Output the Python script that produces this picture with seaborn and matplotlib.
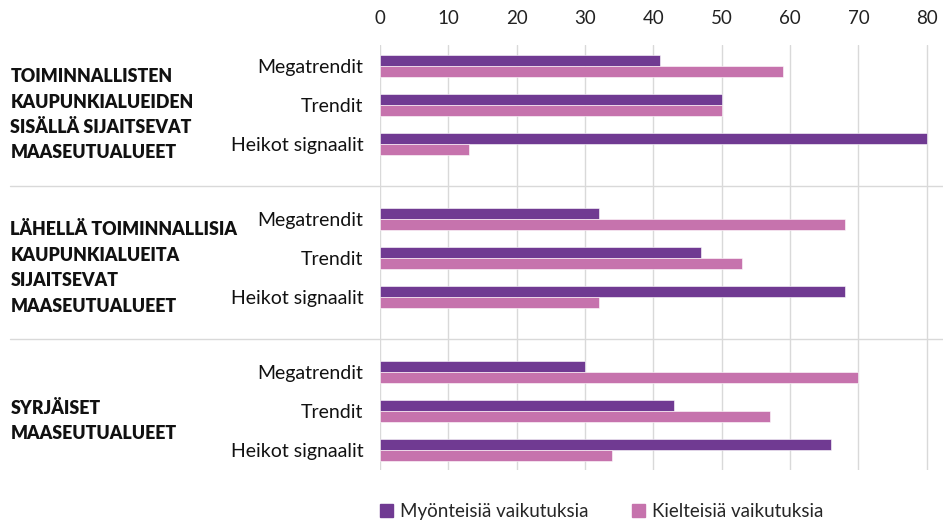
import numpy as np
import pandas as pd
import matplotlib.pyplot as plt
import matplotlib.transforms as mtransforms
import seaborn as sns

# --- DATA ---
groups = [
    "TOIMINNALLISTEN\nKAUPUNKIALUEIDEN\nSISÄLLÄ SIJAITSEVAT\nMAASEUTUALUEET",
    "LÄHELLÄ TOIMINNALLISIA\nKAUPUNKIALUEITA\nSIJAITSEVAT\nMAASEUTUALUEET",
    "SYRJÄISET\nMAASEUTUALUEET",
]
rows = ["Megatrendit", "Trendit", "Heikot signaalit"]
series = ["Myönteisiä vaikutuksia", "Kielteisiä vaikutuksia"]
positive = [41, 50, 80, 32, 47, 68, 30, 43, 66]
negative = [59, 50, 13, 68, 53, 32, 70, 57, 34]
xticks = [0, 10, 20, 30, 40, 50, 60, 70, 80]

COLORS = ["#703A92", "#C673AD"]
GROUP_STEP = 3.92  # rows per group incl. gap
FONT = "Lato"

# build long table
recs = []
for g in range(len(groups)):
    for r in range(len(rows)):
        pos = g * GROUP_STEP + r
        i = g * len(rows) + r
        recs.append({"pos": pos, "val": positive[i], "series": series[0]})
        recs.append({"pos": pos, "val": negative[i], "series": series[1]})
df = pd.DataFrame(recs)

sns.set_style("white")
plt.rcParams["font.family"] = [FONT, "DejaVu Sans"]

fig = plt.figure(figsize=(9.43, 5.21), dpi=100)
ax = fig.add_axes([0.403, 0.098, 0.582, 0.816])

sns.barplot(data=df, x="val", y="pos", hue="series", orient="h",
            native_scale=True, palette=COLORS, width=0.56,
            hue_order=series, ax=ax, legend=False, saturation=1,
            edgecolor="white", linewidth=0.4)

ax.set_xlim(0, 80.3)
ax.set_ylim(2 * GROUP_STEP + 2.5, -0.54)
ax.xaxis.tick_top()
ax.set_xticks(xticks)
ax.tick_params(axis="x", length=0, pad=13, labelsize=13.5, labelcolor="#222222")
ax.grid(axis="x", color="#D9D9D9", linewidth=1)
ax.set_axisbelow(True)

ypos = [g * GROUP_STEP + r for g in range(len(groups)) for r in range(len(rows))]
ax.set_yticks(ypos)
ax.set_yticklabels(rows * len(groups))
ax.tick_params(axis="y", length=0, pad=12, labelsize=14, labelcolor="#111111")
ax.set_xlabel("")
ax.set_ylabel("")
for s in ax.spines.values():
    s.set_visible(False)

# group labels + separators
trans = mtransforms.blended_transform_factory(fig.transFigure, ax.transData)
for g, name in enumerate(groups):
    center = g * GROUP_STEP + 1.25
    ax.text(0.011, center, name, transform=trans, ha="left", va="center",
            fontsize=12.8, fontweight="heavy", color="#111111", linespacing=1.6)
    if g > 0:
        ysep = g * GROUP_STEP - 0.85
        ax.plot([0.011, 1.0], [ysep, ysep], transform=trans, color="#D9D9D9",
                linewidth=1, clip_on=False)

handles = [plt.Rectangle((0, 0), 1, 1, color=c) for c in COLORS]
fig.legend(handles, series, loc="lower center", bbox_to_anchor=(0.638, -0.03),
           ncol=2, frameon=False, fontsize=13.5, handlelength=0.7,
           handleheight=0.7, handletextpad=0.4, columnspacing=2.3)

fig.savefig("out.png", dpi=100)
